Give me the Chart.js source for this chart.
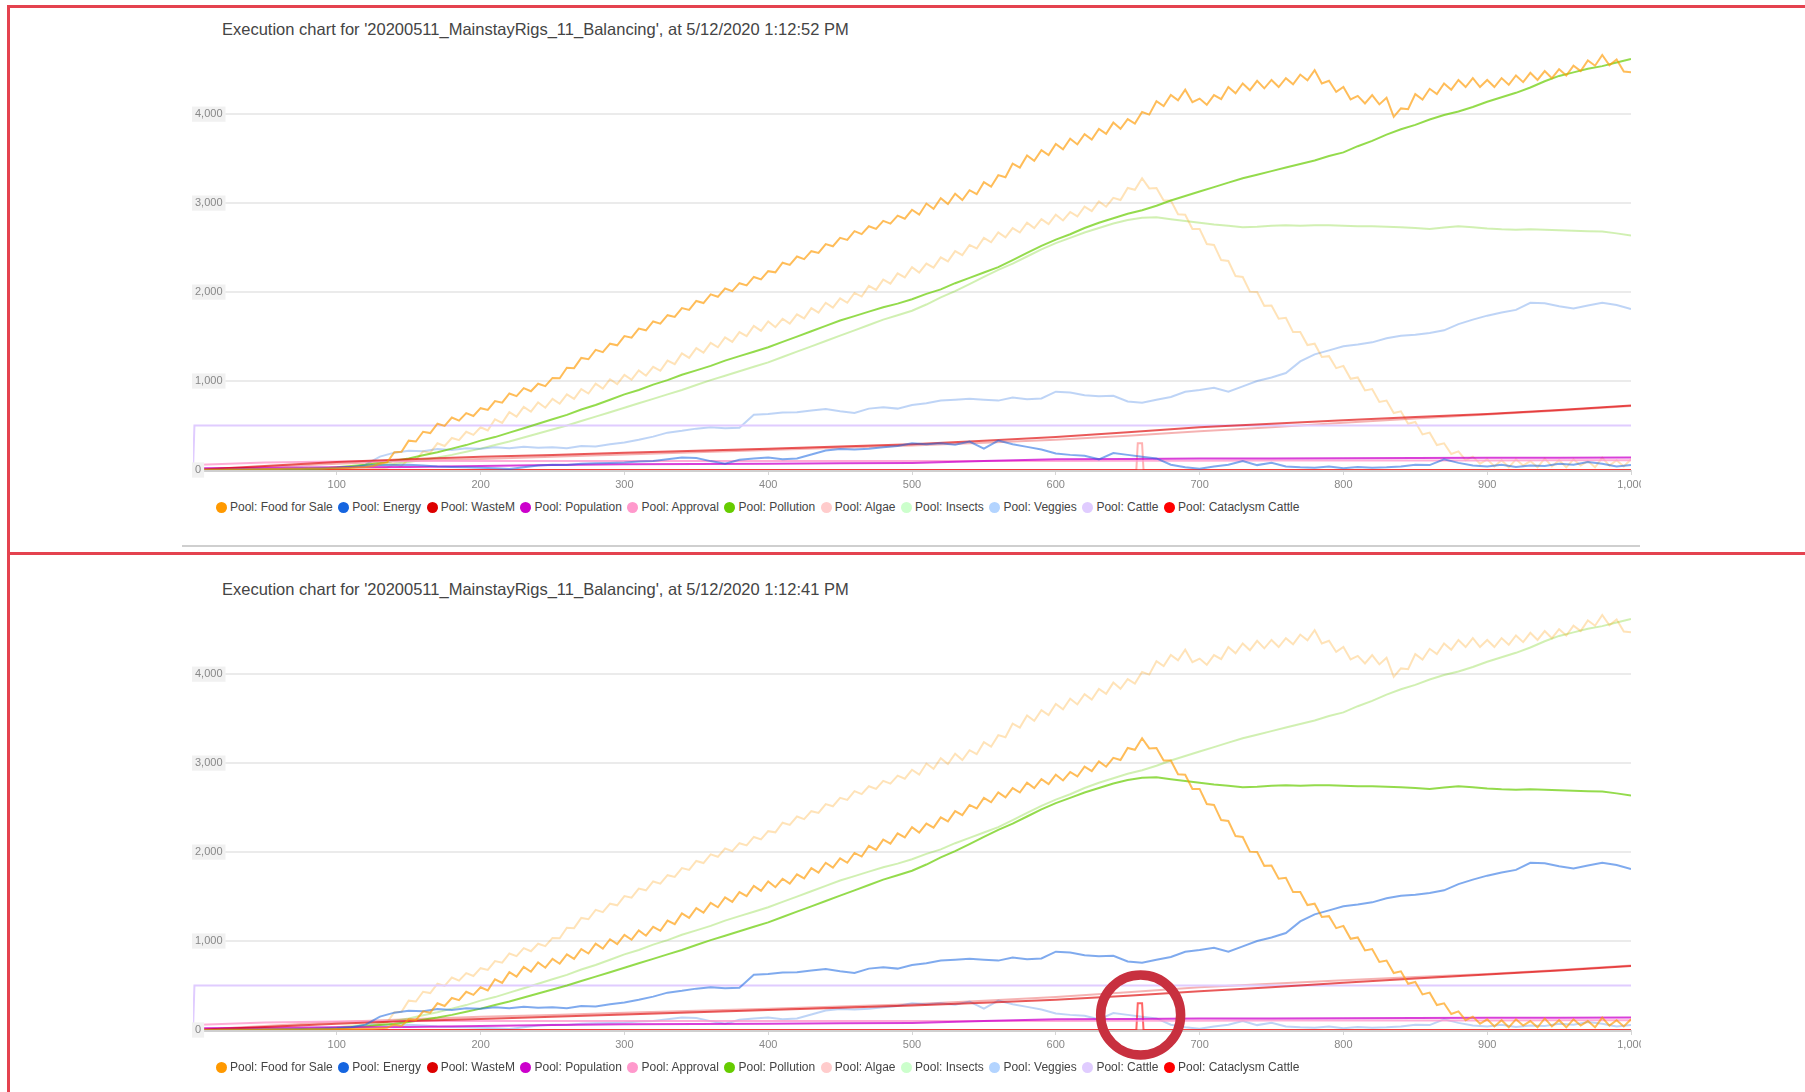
<!DOCTYPE html>
<html>
<head>
<meta charset="utf-8">
<title>Execution chart</title>
<script src="https://cdn.jsdelivr.net/npm/chart.js@4.4.1/dist/chart.umd.min.js"></script>
<style>
  body { margin:0; background:#fff; width:1805px; height:1092px; overflow:hidden; position:relative;
         font-family: Arial, "Liberation Sans", sans-serif; }
  .cadre { position:absolute; background:#e4424f; }
  .titre { position:absolute; left:222px; font-size:16.5px; line-height:19px; color:#444; white-space:nowrap; }
  canvas { position:absolute; left:160px; }
  .legende { position:absolute; left:216px; display:flex; align-items:center; font-size:12px; line-height:14px;
             color:#444; white-space:nowrap; }
  .legende .item { display:flex; align-items:center; margin-right:5.6px; }
  .legende .pastille { display:inline-block; width:11px; height:11px; border-radius:50%; margin-right:3px; }
  .trait { position:absolute; left:182px; top:545px; width:1458px; height:2px; background:#cfcfcf; }
</style>
</head>
<body>

<div class="cadre" style="left:7px;top:5px;width:1798px;height:3px"></div>
<div class="cadre" style="left:7px;top:5px;width:3px;height:1087px"></div>
<div class="cadre" style="left:7px;top:552px;width:1798px;height:3px"></div>

<div class="titre" style="top:20px">Execution chart for '20200511_MainstayRigs_11_Balancing', at 5/12/2020 1:12:52 PM</div>
<canvas id="chart1" width="1481" height="500" style="top:0px"></canvas>
<div class="legende" id="legende1" style="top:500px"></div>
<div class="trait"></div>

<div class="titre" style="top:580px">Execution chart for '20200511_MainstayRigs_11_Balancing', at 5/12/2020 1:12:41 PM</div>
<canvas id="chart2" width="1481" height="532" style="top:560px"></canvas>
<div class="legende" id="legende2" style="top:1060px"></div>

<script>
// Pas des abscisses (itérations) pour chaque tableau de valeurs
var PAS_FIN = 5, PAS = 10, PAS_LARGE = 50;

var nomsSeries = ['Pool: Food for Sale','Pool: Energy','Pool: WasteM','Pool: Population','Pool: Approval',
                  'Pool: Pollution','Pool: Algae','Pool: Insects','Pool: Veggies','Pool: Cattle','Pool: Cataclysm Cattle'];
var couleurs = ['#ff9900','#1565e0','#dd0000','#cc00cc','#ff99cc',
                '#66cc00','#ffcccc','#ccffcc','#b3d4ff','#e0ccff','#ff0000'];

var ticksX = [0,100,200,300,400,500,600,700,800,900,1000];
var ticksY = [0,1000,2000,3000,4000];

// Exécution de 1:12:52 (A) -- Food for Sale, un point toutes les 5 itérations
var nourritureA = [
  0,1,2,3,4,5,6,7,8,9,10,11,12,13,14,15,16,17,18,19,
  20,22,25,30,35,45,70,85,200,205,330,320,430,415,520,495,590,555,640,607,
  695,675,775,757,860,830,920,885,970,942,1035,1032,1150,1145,1260,1245,1350,1325,1420,1402,
  1505,1487,1590,1570,1670,1645,1740,1720,1820,1800,1900,1877,1975,1947,2040,2010,2100,2075,2170,2142,
  2235,2222,2330,2305,2400,2370,2460,2440,2540,2515,2610,2587,2685,2652,2740,2710,2800,2770,2860,2825,
  2925,2870,2995,2935,3055,2990,3105,3035,3145,3100,3235,3185,3315,3290,3445,3400,3535,3475,3595,3540,
  3665,3605,3725,3660,3775,3715,3835,3780,3905,3835,3945,3895,4025,3995,4145,4090,4215,4155,4275,4135,
  4175,4105,4215,4170,4305,4235,4345,4270,4375,4290,4385,4305,4405,4335,4445,4380,4495,4345,4375,4250,
  4305,4165,4205,4120,4215,4110,4185,3970,4065,4055,4225,4165,4285,4225,4345,4275,4385,4305,4405,4305,
  4385,4305,4405,4330,4435,4360,4465,4385,4485,4405,4505,4435,4545,4485,4605,4545,4665,4550,4615,4480,
  4470];

// Exécution de 1:12:41 (B) -- Food for Sale
var nourritureB = [
  0,0,1,1,2,2,3,3,4,4,5,5,6,6,7,7,8,8,9,9,
  10,10,11,12,13,15,20,25,60,45,120,110,210,195,300,270,360,335,430,395,
  480,445,570,530,650,600,710,655,760,700,800,745,850,800,910,860,970,915,1020,965,
  1070,1015,1120,1060,1160,1115,1230,1190,1310,1260,1370,1320,1430,1380,1490,1440,1550,1505,1620,1565,
  1670,1605,1700,1645,1750,1705,1820,1770,1880,1825,1930,1880,1990,1950,2070,2025,2140,2095,2210,2165,
  2280,2220,2320,2275,2390,2345,2460,2415,2530,2490,2610,2560,2670,2615,2720,2670,2780,2720,2820,2765,
  2870,2805,2900,2850,2960,2910,3020,2960,3060,3035,3170,3150,3280,3165,3170,3030,3030,2875,2870,2710,
  2710,2540,2530,2360,2350,2180,2170,2005,2000,1845,1850,1700,1710,1550,1550,1405,1420,1270,1280,1145,
  1170,1025,1040,895,910,765,780,640,660,520,540,400,420,280,300,180,210,110,150,70,
  120,40,110,30,120,50,100,30,130,40,110,30,120,50,100,30,140,50,110,40,
  120];

// Energy, un point toutes les 10 itérations
var energieA = [
  0,2,4,6,8,10,12,15,18,20,
  25,35,50,60,55,60,50,40,35,30,
  25,20,10,30,50,60,55,70,75,80,
  85,95,100,120,140,135,100,70,115,130,
  140,120,130,175,220,235,230,240,255,270,
  300,290,300,285,320,240,330,290,260,230,
  185,170,160,120,190,170,150,130,60,30,
  15,40,60,100,55,80,40,30,25,40,
  20,35,25,30,40,60,55,120,80,50,
  40,60,35,50,45,70,60,90,70,40,
  55];
var energieB = [
  0,0,2,3,4,5,6,8,10,15,
  20,30,60,150,195,215,210,235,225,245,
  240,255,245,260,250,255,245,270,265,290,
  310,340,375,420,440,465,480,470,475,620,
  630,645,650,670,685,660,640,690,705,690,
  730,750,780,790,800,790,780,815,795,805,
  880,870,840,830,835,770,755,790,820,880,
  900,925,880,940,1000,1040,1090,1220,1300,1345,
  1390,1410,1435,1480,1510,1520,1540,1570,1640,1690,
  1735,1770,1800,1880,1875,1840,1815,1850,1880,1855,
  1810];

// Pollution, un point toutes les 10 itérations
var pollutionA = [
  0,0,1,2,3,4,6,8,12,18,
  30,45,60,80,105,130,165,200,240,280,
  330,370,420,470,520,570,620,680,730,790,
  850,900,960,1010,1070,1120,1170,1230,1280,1330,
  1380,1440,1500,1560,1620,1680,1730,1780,1830,1870,
  1920,1980,2030,2100,2160,2220,2280,2360,2440,2520,
  2590,2650,2720,2780,2830,2880,2920,2970,3030,3080,
  3130,3180,3230,3280,3320,3360,3400,3440,3480,3530,
  3570,3640,3700,3770,3830,3880,3940,3990,4030,4080,
  4140,4190,4240,4300,4370,4430,4470,4510,4540,4580,
  4620];
var pollutionB = [
  0,0,1,2,3,4,5,7,10,14,
  20,30,40,55,70,90,115,140,170,205,
  240,280,320,365,410,455,500,550,600,650,
  700,750,800,850,900,955,1010,1060,1110,1160,
  1210,1270,1330,1390,1450,1510,1570,1630,1690,1740,
  1790,1860,1940,2010,2090,2170,2250,2320,2400,2480,
  2550,2610,2670,2720,2770,2810,2835,2840,2820,2800,
  2780,2760,2745,2730,2735,2745,2750,2745,2750,2750,
  2745,2740,2740,2735,2730,2720,2710,2725,2740,2730,
  2715,2705,2700,2705,2700,2695,2690,2685,2680,2660,
  2635];

// WasteM, Population, Approval : un point toutes les 50 itérations
var dechetsA = [0,45,90,120,150,170,195,215,240,265,290,330,370,425,480,520,560,595,630,675,725];
var dechetsB = [0,35,70,100,125,150,175,200,225,250,275,305,340,385,435,480,530,580,625,670,720];
var population = [20,25,30,35,45,55,65,68,70,75,80,100,120,125,128,130,132,135,137,138,140];
var approbation = [55,85,95,100,100,100,100,100,100,100,100,100,102,104,105,106,107,108,108,109,110];

// Cattle et Cataclysm Cattle : abscisses explicites
var betailPas = [0,1,1000];
var betail = [0,500,500];
var cataclysmeAPas = [0,1000];
var cataclysmeA = [0,0];
var cataclysmeBPas = [0,656,657,660,661,1000];
var cataclysmeB = [0,0,300,300,0,0];

// Repère entouré sur le second graphe (itération, valeur)
var cercleX = 659, cercleY = 169;

Chart.defaults.font.family = 'Arial, "Liberation Sans", sans-serif';

function points(valeurs, pas){
  return valeurs.map(function(v, i){ return {x: i*pas, y: v}; });
}
function pointsXY(xs, ys){
  return xs.map(function(x, i){ return {x: x, y: ys[i]}; });
}
function rgba(hex, a){
  var r = parseInt(hex.substr(1,2),16), g = parseInt(hex.substr(3,2),16), b = parseInt(hex.substr(5,2),16);
  return 'rgba('+r+','+g+','+b+','+a+')';
}
function serie(donnees, couleur, alpha){
  return {data: donnees, borderColor: rgba(couleur, alpha), borderWidth: 2, pointRadius: 0, tension: 0, fill: false};
}

var executionA = {nourriture: points(nourritureA, PAS_FIN), energie: points(energieA, PAS),
                  dechets: points(dechetsA, PAS_LARGE), pollution: points(pollutionA, PAS),
                  cataclysme: pointsXY(cataclysmeAPas, cataclysmeA)};
var executionB = {nourriture: points(nourritureB, PAS_FIN), energie: points(energieB, PAS),
                  dechets: points(dechetsB, PAS_LARGE), pollution: points(pollutionB, PAS),
                  cataclysme: pointsXY(cataclysmeBPas, cataclysmeB)};

var pluginCercle = {
  id: 'cercle',
  afterDraw: function(chart){
    var ctx = chart.ctx;
    var cx = chart.scales.x.getPixelForValue(cercleX);
    var cy = chart.scales.y.getPixelForValue(cercleY);
    ctx.save();
    ctx.beginPath();
    ctx.arc(cx, cy, 40, 0, 2*Math.PI);
    ctx.lineWidth = 9.5;
    ctx.strokeStyle = '#c8303f';
    ctx.stroke();
    ctx.restore();
  }
};

function genereLegende(idLegende){
  var div = document.getElementById(idLegende);
  for (var i = 0; i < nomsSeries.length; i++){
    var item = document.createElement('span');
    item.className = 'item';
    var pastille = document.createElement('span');
    pastille.className = 'pastille';
    pastille.style.background = couleurs[i];
    item.appendChild(pastille);
    item.appendChild(document.createTextNode(nomsSeries[i]));
    div.appendChild(item);
  }
}

// courant = traits francs, autre = même série de l'autre exécution en pâle
function genereGraphe(idCanvas, courant, autre, basBas, avecCercle){
  var jeux = [
    serie(courant.nourriture, couleurs[0], 0.65),
    serie(courant.energie, couleurs[1], 0.55),
    serie(courant.dechets, couleurs[2], 0.65),
    serie(points(population, PAS_LARGE), couleurs[3], 0.75),
    serie(points(approbation, PAS_LARGE), couleurs[4], 0.8),
    serie(courant.pollution, couleurs[5], 0.7),
    serie(pointsXY(betailPas, betail), couleurs[9], 1),
    serie(courant.cataclysme, couleurs[10], 0.6),
    serie(autre.nourriture, couleurs[0], 0.28),
    serie(autre.energie, couleurs[1], 0.28),
    serie(autre.pollution, couleurs[5], 0.3),
    serie(autre.dechets, couleurs[2], 0.3),
    serie(autre.cataclysme, couleurs[10], 0.3)
  ];
  return new Chart(document.getElementById(idCanvas), {
    type: 'line',
    data: {datasets: jeux},
    options: {
      responsive: false,
      animation: false,
      events: [],
      layout: {padding: {left: 33, right: 10, top: 43, bottom: basBas}},
      plugins: {legend: {display: false}, title: {display: false}, tooltip: {enabled: false}},
      scales: {
        x: {
          type: 'linear', min: 0, max: 1000,
          afterFit: function(s){ s.height = 22; s.paddingLeft = 0; s.paddingRight = 0; },
          afterBuildTicks: function(s){ s.ticks = ticksX.map(function(v){ return {value: v}; }); },
          grid: {drawOnChartArea: false, drawTicks: true, tickLength: 5, color: '#d6d6d6'},
          border: {display: false},
          ticks: {padding: 3, color: '#888', font: {size: 11}, maxRotation: 0, autoSkip: false,
                  callback: function(v){ return v === 0 ? '' : v.toLocaleString('en-US'); }}
        },
        y: {
          min: 0, max: 4800,
          afterFit: function(s){ s.width = 0; s.paddingTop = 0; s.paddingBottom = 0; },
          afterBuildTicks: function(s){ s.ticks = ticksY.map(function(v){ return {value: v}; }); },
          grid: {drawTicks: false,
                 color: function(c){ return c.tick && c.tick.value === 0 ? '#cfcfcf' : '#ebebeb'; },
                 lineWidth: function(c){ return c.tick && c.tick.value === 0 ? 3 : 2; }},
          border: {display: false},
          ticks: {mirror: true, padding: 2, z: 1, showLabelBackdrop: true, backdropColor: '#f1f1f1',
                  backdropPadding: {x: 3, y: 1}, color: '#888', font: {size: 11},
                  callback: function(v){ return v.toLocaleString('en-US'); }}
        }
      }
    },
    plugins: avecCercle ? [pluginCercle] : []
  });
}

genereGraphe('chart1', executionA, executionB, 8, false);
genereLegende('legende1');
genereGraphe('chart2', executionB, executionA, 40, true);
genereLegende('legende2');
</script>
</body>
</html>
